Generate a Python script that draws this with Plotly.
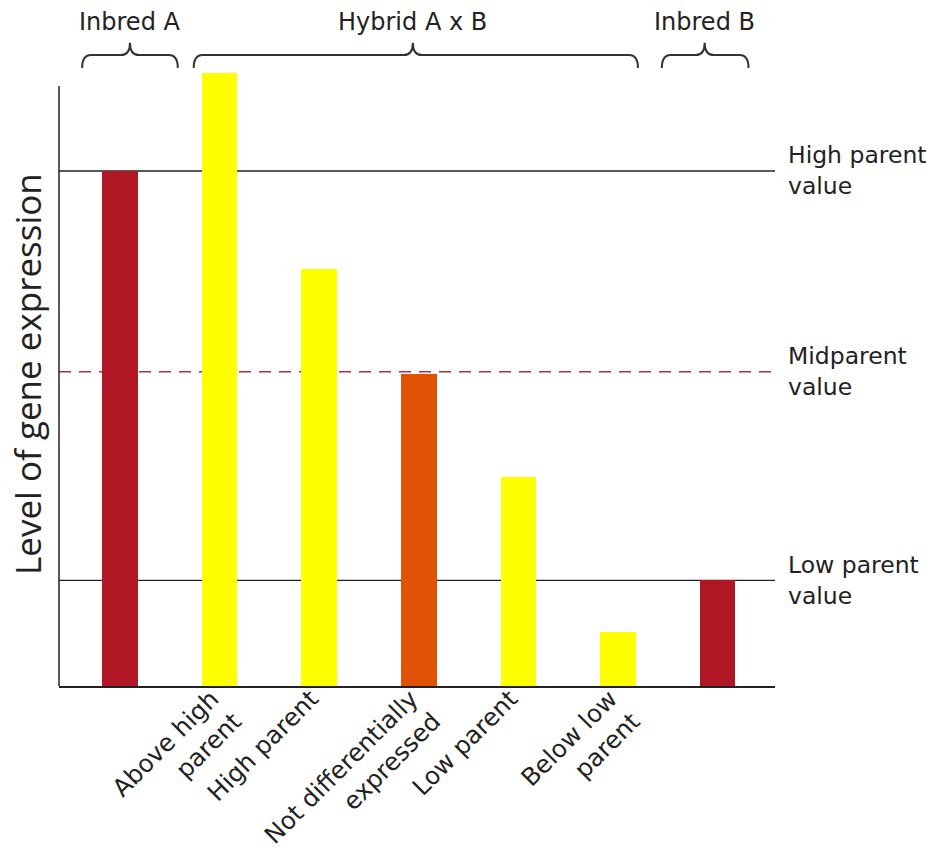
import plotly.graph_objects as go

# Expression level of each genotype / hybrid class (arbitrary units)
categories = ["Inbred A", "Above high parent", "High parent", "Not differentially expressed",
              "Low parent", "Below low parent", "Inbred B"]
tick_labels = ["", "Above high<br>parent", "High parent", "Not differentially<br>expressed",
               "Low parent", "Below low<br>parent", ""]
expression = [10.0, 11.9, 8.1, 6.05, 4.05, 1.05, 2.05]
bar_colors = ["#B01623", "#FFFF00", "#FFFF00", "#E05206", "#FFFF00", "#FFFF00", "#B01623"]

# Reference levels drawn across the plot
ref_names = ["High parent<br>value", "Midparent<br>value", "Low parent<br>value"]
ref_values = [10.0, 6.1, 2.05]
ref_dashed = [False, True, False]

# Group braces above the bars: (label, left, tip, right) in x-axis units
groups = [("Inbred A", -0.38, 0.10, 0.58),
          ("Hybrid A x B", 0.74, 2.94, 5.20),
          ("Inbred B", 5.44, 5.87, 6.31)]

AXIS_TOP = 11.65
Y_MAX = 12.62
X_RANGE = [-0.6125, 6.576]
TXT = "DejaVu Sans"
INK = "#222222"

x = list(range(len(categories)))

fig = go.Figure(go.Bar(
    x=x, y=expression, width=0.357,
    marker=dict(color=bar_colors, line=dict(width=0)),
    hovertext=categories, hoverinfo="text+y",
))

shapes = []
# vertical axis line
shapes.append(dict(type="line", xref="paper", yref="y", x0=0, x1=0, y0=0, y1=AXIS_TOP,
                   line=dict(color=INK, width=1.5), layer="above"))
# reference lines
for val, dashed in zip(ref_values, ref_dashed):
    shapes.append(dict(type="line", xref="paper", yref="y", x0=0, x1=1, y0=val, y1=val,
                       layer="below",
                       line=dict(color="#A8333A" if dashed else INK, width=1.4,
                                 dash="12px,8px" if dashed else "solid")))

# curly braces
y_end, y_mid, y_tip = 12.0, 12.25, 12.49
rx = 0.09
for label, left, tip, right in groups:
    p = (f"M {left},{y_end} Q {left},{y_mid} {left + rx},{y_mid} "
         f"L {tip - rx},{y_mid} Q {tip},{y_mid} {tip},{y_tip} "
         f"Q {tip},{y_mid} {tip + rx},{y_mid} "
         f"L {right - rx},{y_mid} Q {right},{y_mid} {right},{y_end}")
    shapes.append(dict(type="path", xref="x", yref="y", path=p,
                       line=dict(color="#333333", width=2)))

annotations = []
for label, left, tip, right in groups:
    annotations.append(dict(x=tip, y=1.0215, xref="x", yref="paper", text=label,
                            showarrow=False, xanchor="center", yanchor="middle",
                            font=dict(family=TXT, size=24, color=INK)))
for name, val in zip(ref_names, ref_values):
    annotations.append(dict(x=1, y=val, xref="paper", yref="y", text=name, showarrow=False,
                            xanchor="left", yanchor="middle", xshift=11, align="left",
                            font=dict(family=TXT, size=23.5, color=INK)))
annotations.append(dict(x=0, y=0.48, xref="paper", yref="paper",
                        text="Level of gene expression", textangle=-90, showarrow=False,
                        xanchor="center", yanchor="middle", xshift=-32,
                        font=dict(family="Open Sans", size=35, color=INK)))

fig.update_layout(
    width=937, height=853,
    margin=dict(l=59, r=162, t=36, b=167),
    paper_bgcolor="white", plot_bgcolor="white",
    showlegend=False, bargap=0,
    shapes=shapes, annotations=annotations,
    xaxis=dict(range=X_RANGE, tickmode="array", tickvals=x, ticktext=tick_labels,
               tickangle=-45, showgrid=False, zeroline=False, ticks="",
               showline=True, linecolor=INK, linewidth=1.5, automargin=False,
               ticklabelstandoff=-13, ticklabelshift=-8,
               tickfont=dict(family=TXT, size=24.5, color=INK)),
    yaxis=dict(range=[0, Y_MAX], showgrid=False, zeroline=False, showticklabels=False,
               ticks="", showline=False, automargin=False),
)

fig.write_html("out.html")
